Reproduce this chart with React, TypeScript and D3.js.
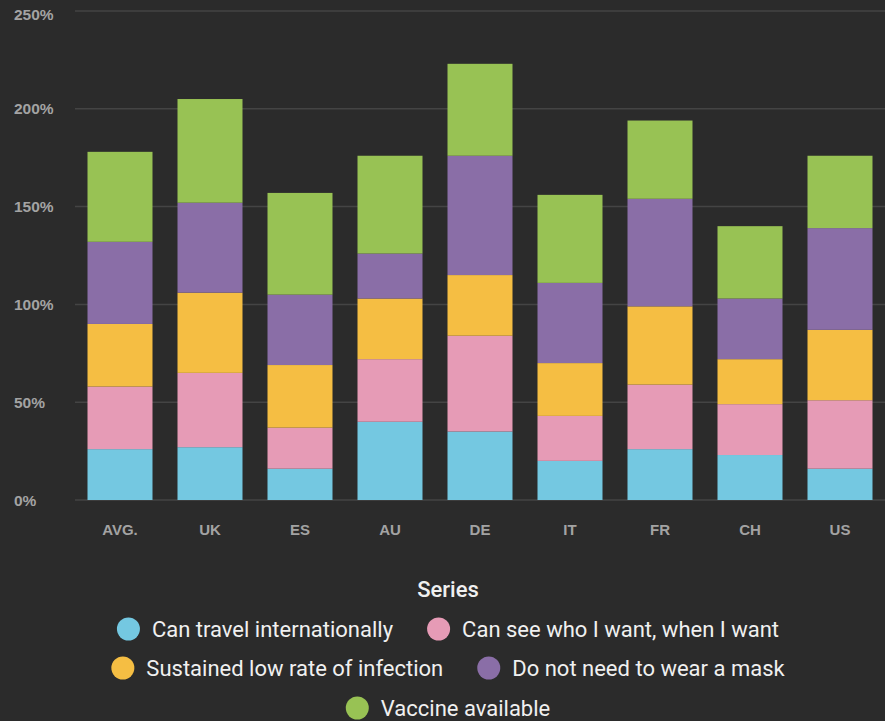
import React, { useEffect, useRef } from "react";
import * as d3 from "d3";

const categories = ["AVG.", "UK", "ES", "AU", "DE", "IT", "FR", "CH", "US"];
const seriesNames = [
  "Can travel internationally",
  "Can see who I want, when I want",
  "Sustained low rate of infection",
  "Do not need to wear a mask",
  "Vaccine available",
];
const travel = [26, 27, 16, 40, 35, 20, 26, 23, 16];
const seeWho = [32, 38, 21, 32, 49, 23, 33, 26, 35];
const lowInfection = [32, 41, 32, 31, 31, 27, 40, 23, 36];
const noMask = [42, 46, 36, 23, 61, 41, 55, 31, 52];
const vaccine = [46, 53, 52, 50, 47, 45, 40, 37, 37];
const yTicks = [0, 50, 100, 150, 200, 250];
const colors = ["#74c8e1", "#e69bb6", "#f5be43", "#8a6ea7", "#98c254"];

const W = 885;
const H = 721;

export default function App() {
  const ref = useRef<SVGSVGElement>(null);
  useEffect(() => {
    const svg = d3.select(ref.current);
    svg.selectAll("*").remove();
    svg.append("rect").attr("width", W).attr("height", H).attr("fill", "#2b2b2b");

    const seriesData = [travel, seeWho, lowInfection, noMask, vaccine];
    const rows = categories.map((c, i) => {
      const o: any = { cat: c };
      seriesNames.forEach((s, j) => (o[s] = seriesData[j][i]));
      return o;
    });
    const stacked = d3.stack().keys(seriesNames)(rows);

    const x = d3
      .scaleBand()
      .domain(categories)
      .range([75, 885])
      .paddingInner(25 / 90)
      .paddingOuter(12.5 / 90);
    const y = d3.scaleLinear().domain([0, 250]).range([500, 11]);

    const grid = svg.append("g");
    grid
      .selectAll("line")
      .data(yTicks)
      .join("line")
      .attr("x1", 75)
      .attr("x2", 885)
      .attr("y1", (d) => y(d))
      .attr("y2", (d) => y(d))
      .attr("stroke", "#444444")
      .attr("stroke-width", 1.5);

    const axisFont = "'Liberation Sans', Arial, sans-serif";
    svg
      .append("g")
      .selectAll("text")
      .data(yTicks)
      .join("text")
      .attr("x", 14)
      .attr("y", (d) => Math.max(y(d), 14))
      .attr("dy", "0.36em")
      .attr("fill", "#a3a3a3")
      .attr("font-family", axisFont)
      .attr("font-weight", "bold")
      .attr("font-size", 15.5)
      .text((d) => d + "%");

    const layers = svg
      .append("g")
      .selectAll("g")
      .data(stacked)
      .join("g")
      .attr("fill", (_d, i) => colors[i]);
    layers
      .selectAll("rect")
      .data((d) => d)
      .join("rect")
      .attr("x", (d: any) => x(d.data.cat)!)
      .attr("width", x.bandwidth())
      .attr("y", (d) => y(d[1]))
      .attr("height", (d) => y(d[0]) - y(d[1]));

    svg
      .append("g")
      .selectAll("text")
      .data(categories)
      .join("text")
      .attr("x", (d) => x(d)! + x.bandwidth() / 2)
      .attr("y", 530)
      .attr("dy", "0.36em")
      .attr("text-anchor", "middle")
      .attr("fill", "#a3a3a3")
      .attr("font-family", axisFont)
      .attr("font-weight", "bold")
      .attr("font-size", 15)
      .text((d) => d);

    svg
      .append("text")
      .attr("x", 448)
      .attr("y", 589)
      .attr("dy", "0.36em")
      .attr("text-anchor", "middle")
      .attr("fill", "#f0f0f0")
      .attr("font-family", "Roboto, sans-serif")
      .attr("font-weight", 500)
      .attr("font-size", 22)
      .text("Series");

    const legendRows = [[0, 1], [2, 3], [4]];
    const rowY = [629, 668, 708];
    const r = 11.5;
    const gapCT = 12;
    const gapItems = 34;
    legendRows.forEach((row, ri) => {
      const g = svg.append("g");
      let cx = 0;
      row.forEach((si, k) => {
        const item = g.append("g").attr("transform", `translate(${cx},0)`);
        item
          .append("circle")
          .attr("cx", r)
          .attr("cy", rowY[ri])
          .attr("r", r)
          .attr("fill", colors[si]);
        const t = item
          .append("text")
          .attr("x", 2 * r + gapCT)
          .attr("y", rowY[ri])
          .attr("dy", "0.36em")
          .attr("fill", "#f0f0f0")
          .attr("font-family", "Roboto, sans-serif")
          .attr("font-size", 22)
          .text(seriesNames[si]);
        const tw = (t.node() as SVGTextElement).getComputedTextLength();
        cx += 2 * r + gapCT + tw + (k < row.length - 1 ? gapItems : 0);
      });
      g.attr("transform", `translate(${448 - cx / 2},0)`);
    });
  }, []);
  return (
    <svg
      ref={ref}
      width={W}
      height={H}
      style={{ position: "absolute", left: 0, top: 0, display: "block" }}
    />
  );
}
